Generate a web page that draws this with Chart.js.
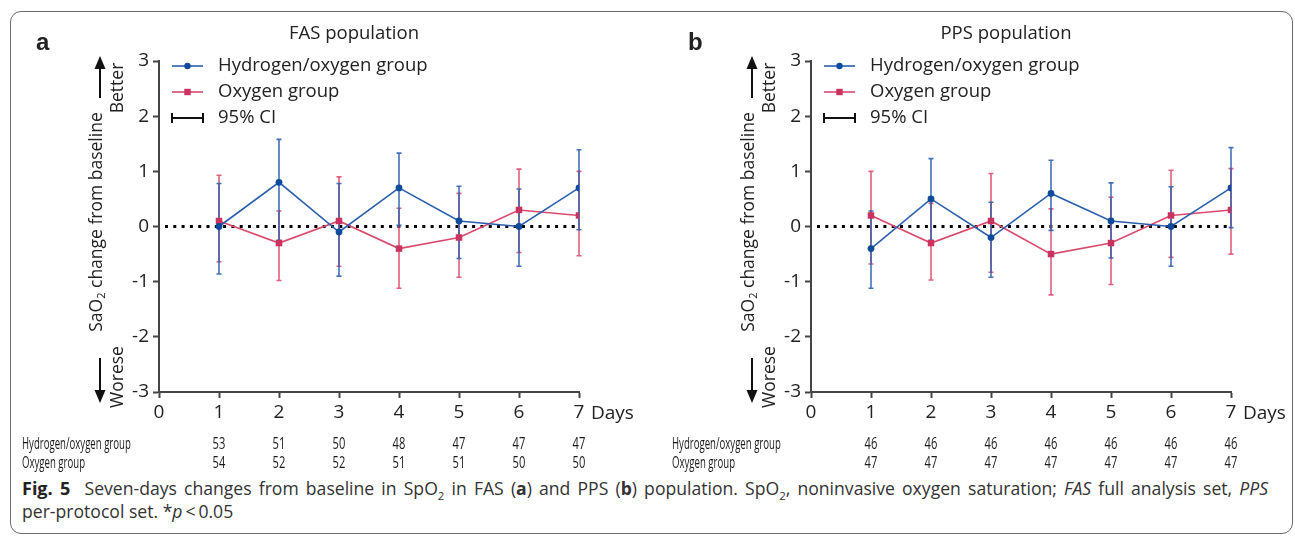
<!DOCTYPE html>
<html>
<head>
<meta charset="utf-8">
<script src="https://cdn.jsdelivr.net/npm/chart.js@4.4.1/dist/chart.umd.min.js"></script>
<style>
  body { margin: 0; background: #fff; width: 1295px; height: 536px; overflow: hidden; position: relative; font-family: 'Open Sans', sans-serif; }
  #frame { position: absolute; left: 10px; top: 11px; width: 1281px; height: 521px; border: 1.5px solid #6a6a6a; border-radius: 11px; }
  #chartA { position: absolute; left: 0; top: 0; }
  #chartB { position: absolute; left: 650px; top: 0; }
  #caption { position: absolute; left: 22px; top: 477px; width: 1246px; font-size: 17.6px; line-height: 23px; color: #333; white-space: nowrap; }
  #caption .l1 { white-space: normal; text-align: justify; text-align-last: justify; }
  #caption b.fig { color: #222; font-size: 18px; }
  #caption sub { font-size: 11.5px; line-height: 0; }
</style>
</head>
<body>
<div id="frame"></div>
<canvas id="chartA" width="650" height="476"></canvas>
<canvas id="chartB" width="645" height="476"></canvas>
<div id="caption">
  <div class="l1"><b class="fig">Fig. 5</b>&nbsp; Seven-days changes from baseline in SpO<sub>2</sub> in FAS (<b>a</b>) and PPS (<b>b</b>) population. SpO<sub>2</sub>, noninvasive oxygen saturation; <i>FAS</i> full analysis set, <i>PPS</i></div>
  <div>per-protocol set. *<i>p</i>&thinsp;&lt;&thinsp;0.05</div>
</div>

<script>
// data
var days = [1, 2, 3, 4, 5, 6, 7];
var xTicks = [0, 1, 2, 3, 4, 5, 6, 7];
var yTicks = [-3, -2, -1, 0, 1, 2, 3];

// FAS population (a)
var fasHO = [0, 0.8, -0.1, 0.7, 0.1, 0, 0.7];
var fasHOLow = [-0.86, -0.25, -0.9, 0.02, -0.58, -0.72, -0.06];
var fasHOHigh = [0.78, 1.58, 0.78, 1.33, 0.73, 0.68, 1.39];
var fasO = [0.1, -0.3, 0.1, -0.4, -0.2, 0.3, 0.2];
var fasOLow = [-0.64, -0.98, -0.72, -1.12, -0.92, -0.47, -0.53];
var fasOHigh = [0.93, 0.28, 0.9, 0.33, 0.6, 1.04, 1.0];
var fasNHO = [53, 51, 50, 48, 47, 47, 47];
var fasNO = [54, 52, 52, 51, 51, 50, 50];

// PPS population (b)
var ppsHO = [-0.4, 0.5, -0.2, 0.6, 0.1, 0, 0.7];
var ppsHOLow = [-1.12, -0.25, -0.92, -0.07, -0.57, -0.72, -0.02];
var ppsHOHigh = [0.28, 1.23, 0.44, 1.2, 0.79, 0.72, 1.43];
var ppsO = [0.2, -0.3, 0.1, -0.5, -0.3, 0.2, 0.3];
var ppsOLow = [-0.68, -0.97, -0.83, -1.24, -1.05, -0.56, -0.5];
var ppsOHigh = [1.0, 0.42, 0.96, 0.32, 0.53, 1.02, 1.05];
var ppsNHO = [46, 46, 46, 46, 46, 46, 46];
var ppsNO = [47, 47, 47, 47, 47, 47, 47];

var seriesNames = ['Hydrogen/oxygen group', 'Oxygen group'];

var BLUE = '#2a5eac';
var BLUE_DOT = '#0f4b9c';
var RED = '#d94a6d';
var RED_DOT = '#c9335d';
var FONT = "'Open Sans', sans-serif";

Chart.defaults.font.family = FONT;
Chart.defaults.color = '#222';

function pts(vals) {
    return vals.map(function(v, i) { return { x: days[i], y: v }; });
}

// draws a condensed string (table font is narrow)
function narrowText(ctx, txt, x, y, align, squeeze) {
    ctx.save();
    ctx.translate(x, y);
    ctx.scale(squeeze, 1);
    ctx.textAlign = align;
    ctx.fillText(txt, 0, 0);
    ctx.restore();
}

function arrow(ctx, x, y1, y2) {
    var dir = y2 < y1 ? -1 : 1;
    ctx.save();
    ctx.strokeStyle = '#111';
    ctx.fillStyle = '#111';
    ctx.lineWidth = 2;
    ctx.beginPath();
    ctx.moveTo(x, y1);
    ctx.lineTo(x, y2 - dir * 10);
    ctx.stroke();
    ctx.beginPath();
    ctx.moveTo(x, y2);
    ctx.lineTo(x - 5.5, y2 - dir * 13);
    ctx.lineTo(x + 5.5, y2 - dir * 13);
    ctx.closePath();
    ctx.fill();
    ctx.restore();
}

var panelDecor = {
    id: 'panelDecor',
    beforeDatasetsDraw: function(chart, args, o) {
        var ctx = chart.ctx, xs = chart.scales.x, ys = chart.scales.y;
        var y0 = ys.getPixelForValue(0);

        // dotted zero line
        ctx.save();
        ctx.strokeStyle = '#000';
        ctx.lineWidth = 3;
        ctx.setLineDash([3, 5.3]);
        ctx.beginPath();
        ctx.moveTo(xs.getPixelForValue(0.1), y0);
        ctx.lineTo(xs.getPixelForValue(7), y0);
        ctx.stroke();
        ctx.restore();

        // 95% CI error bars, red first so blue sits on top
        var bars = [[o.oLow, o.oHigh, RED], [o.hoLow, o.hoHigh, BLUE]];
        bars.forEach(function(b) {
            ctx.save();
            ctx.strokeStyle = b[2];
            ctx.globalAlpha = 0.88;
            ctx.lineWidth = 1.6;
            days.forEach(function(d, i) {
                var x = xs.getPixelForValue(d);
                var yl = ys.getPixelForValue(b[0][i]);
                var yh = ys.getPixelForValue(b[1][i]);
                ctx.beginPath();
                ctx.moveTo(x, yl); ctx.lineTo(x, yh);
                ctx.moveTo(x - 2.5, yl); ctx.lineTo(x + 2.5, yl);
                ctx.moveTo(x - 2.5, yh); ctx.lineTo(x + 2.5, yh);
                ctx.stroke();
            });
            ctx.restore();
        });
    },
    afterDraw: function(chart, args, o) {
        var ctx = chart.ctx, xs = chart.scales.x, ys = chart.scales.y;
        var a = chart.chartArea;
        ctx.save();
        ctx.fillStyle = '#222';
        ctx.textBaseline = 'middle';

        // panel letter + title
        ctx.font = 'bold 24px "Liberation Sans", Arial, sans-serif';
        ctx.textAlign = 'left';
        ctx.fillText(o.letter, o.letterX, 43);
        ctx.font = '18.5px ' + FONT;
        ctx.textAlign = 'center';
        ctx.fillText(o.title, (a.left + a.right) / 2 - 15, 34);

        // legend
        var lx = a.left + 13;
        ctx.lineWidth = 1.6;
        ctx.strokeStyle = BLUE;
        ctx.beginPath(); ctx.moveTo(lx, 66); ctx.lineTo(lx + 31, 66); ctx.stroke();
        ctx.fillStyle = BLUE_DOT;
        ctx.beginPath(); ctx.arc(lx + 15.5, 66, 3.2, 0, Math.PI * 2); ctx.fill();
        ctx.strokeStyle = RED;
        ctx.beginPath(); ctx.moveTo(lx, 92); ctx.lineTo(lx + 31, 92); ctx.stroke();
        ctx.fillStyle = RED_DOT;
        ctx.fillRect(lx + 12.3, 88.8, 6.4, 6.4);
        ctx.strokeStyle = '#111';
        ctx.lineWidth = 2;
        ctx.beginPath();
        ctx.moveTo(lx, 118); ctx.lineTo(lx + 31, 118);
        ctx.moveTo(lx, 113); ctx.lineTo(lx, 123);
        ctx.moveTo(lx + 31, 113); ctx.lineTo(lx + 31, 123);
        ctx.stroke();
        ctx.fillStyle = '#222';
        ctx.textAlign = 'left';
        ctx.font = '18.5px ' + FONT;
        ctx.fillText(seriesNames[0], lx + 46, 66);
        ctx.fillText(seriesNames[1], lx + 46, 92);
        ctx.fillText('95% CI', lx + 46, 118);

        // rotated y-axis title with subscript
        var tx = a.left - 62, ty = 222;
        ctx.save();
        ctx.translate(tx, ty);
        ctx.rotate(-Math.PI / 2);
        ctx.font = '17.5px ' + FONT;
        var w1 = ctx.measureText('SaO').width;
        var rest = ' change from baseline';
        var w3 = ctx.measureText(rest).width;
        ctx.font = '11px ' + FONT;
        var w2 = ctx.measureText('2').width;
        var sx = -(w1 + w2 + w3) / 2;
        ctx.font = '17.5px ' + FONT;
        ctx.fillText('SaO', sx, 0);
        ctx.fillText(rest, sx + w1 + w2, 0);
        ctx.font = '11px ' + FONT;
        ctx.fillText('2', sx + w1, 5);
        ctx.restore();

        // Better / Worese with arrows
        ctx.font = '17.5px ' + FONT;
        ctx.textAlign = 'center';
        [['Better', 88], ['Worese', 377]].forEach(function(t) {
            ctx.save();
            ctx.translate(a.left - 41, t[1]);
            ctx.rotate(-Math.PI / 2);
            ctx.fillText(t[0], 0, 0);
            ctx.restore();
        });
        arrow(ctx, a.left - 59, 98, 56);
        arrow(ctx, a.left - 59, 358, 403);

        // "Days" after the last x tick
        ctx.font = '19px ' + FONT;
        ctx.textAlign = 'left';
        ctx.fillText('Days', xs.getPixelForValue(7) + 12, 414);

        // numbers at risk table
        ctx.font = '15.5px ' + FONT;
        ctx.fillStyle = '#1a1a1a';
        narrowText(ctx, seriesNames[0], o.tableX, 445, 'left', 0.62);
        narrowText(ctx, seriesNames[1], o.tableX, 464, 'left', 0.62);
        days.forEach(function(d, i) {
            var x = xs.getPixelForValue(d);
            narrowText(ctx, String(o.nHO[i]), x, 445, 'center', 0.72);
            narrowText(ctx, String(o.nO[i]), x, 464, 'center', 0.72);
        });
        ctx.restore();
    }
};

function makePanel(id, w, padRight, d) {
    var ctx = document.getElementById(id).getContext('2d');
    return new Chart(ctx, {
        type: 'line',
        data: {
            datasets: [{
                label: seriesNames[0],
                data: pts(d.ho),
                borderColor: BLUE,
                backgroundColor: BLUE_DOT,
                borderWidth: 1.6,
                pointStyle: 'circle',
                pointRadius: 3.4,
                pointBorderWidth: 0
            }, {
                label: seriesNames[1],
                data: pts(d.o),
                borderColor: RED,
                backgroundColor: RED_DOT,
                borderWidth: 1.6,
                pointStyle: 'rect',
                pointRadius: 4.6,
                pointBorderWidth: 0
            }]
        },
        options: {
            responsive: false,
            devicePixelRatio: 1,
            animation: false,
            layout: { padding: { left: 0, top: 61, right: padRight, bottom: 0 } },
            plugins: {
                legend: { display: false },
                tooltip: { enabled: false },
                panelDecor: d.decor
            },
            scales: {
                x: {
                    type: 'linear',
                    min: 0,
                    max: 7,
                    afterBuildTicks: function(s) { s.ticks = xTicks.map(function(v) { return { value: v }; }); },
                    afterFit: function(s) { s.height = 84; },
                    border: { color: '#444', width: 2 },
                    grid: { drawOnChartArea: false, color: '#444', tickLength: 6, tickWidth: 2 },
                    ticks: { font: { size: 19 }, color: '#222', padding: 3, maxRotation: 0 }
                },
                y: {
                    min: -3,
                    max: 3,
                    afterBuildTicks: function(s) { s.ticks = yTicks.map(function(v) { return { value: v }; }); },
                    afterFit: function(s) { s.width = d.yWidth; },
                    border: { color: '#444', width: 2 },
                    grid: { drawOnChartArea: false, color: '#444', tickLength: 6, tickWidth: 2 },
                    ticks: { font: { size: 19 }, color: '#222', padding: 4 }
                }
            }
        },
        plugins: [panelDecor]
    });
}

makePanel('chartA', 650, 71, {
    ho: fasHO, o: fasO, yWidth: 159,
    decor: { letter: 'a', letterX: 36, title: 'FAS population', tableX: 22,
             hoLow: fasHOLow, hoHigh: fasHOHigh, oLow: fasOLow, oHigh: fasOHigh,
             nHO: fasNHO, nO: fasNO }
});

makePanel('chartB', 645, 64, {
    ho: ppsHO, o: ppsO, yWidth: 161,
    decor: { letter: 'b', letterX: 38, title: 'PPS population', tableX: 22,
             hoLow: ppsHOLow, hoHigh: ppsHOHigh, oLow: ppsOLow, oHigh: ppsOHigh,
             nHO: ppsNHO, nO: ppsNO }
});
</script>
</body>
</html>
